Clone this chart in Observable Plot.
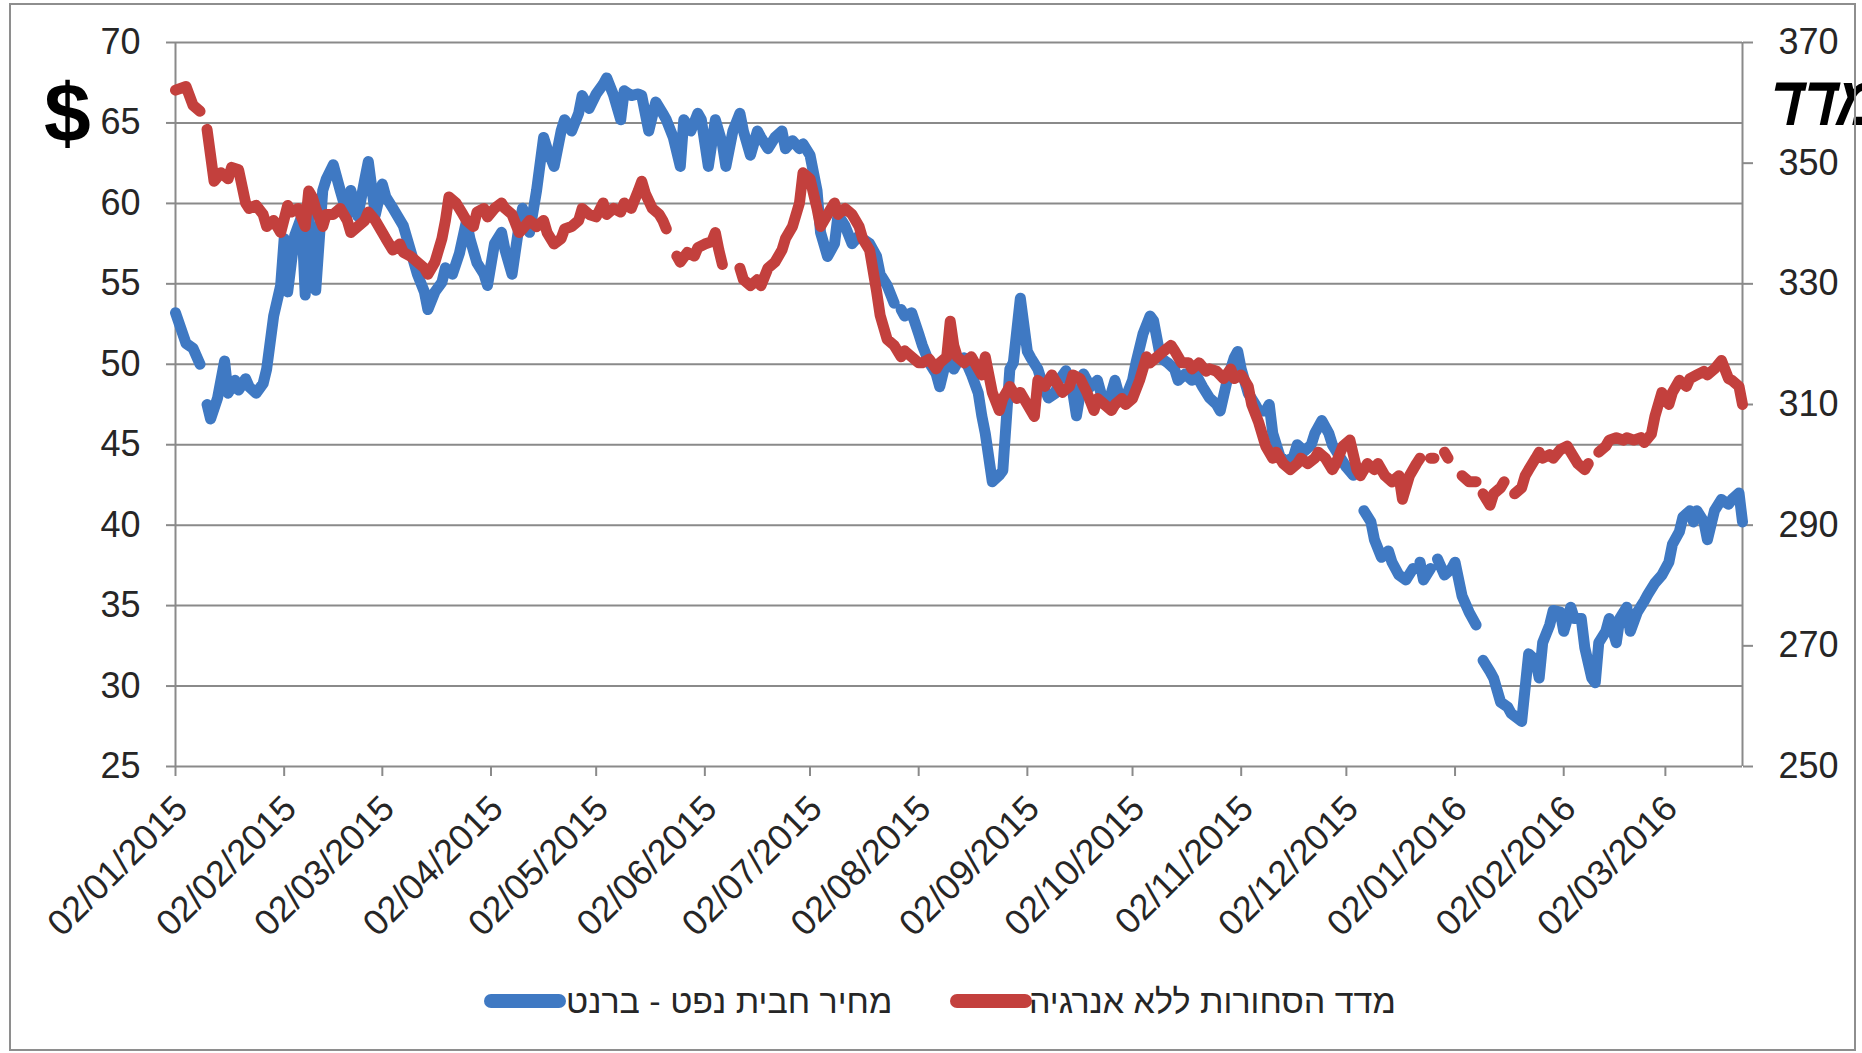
<!DOCTYPE html>
<html>
<head>
<meta charset="utf-8">
<script src="https://cdn.jsdelivr.net/npm/d3@7"></script>
<script src="https://cdn.jsdelivr.net/npm/@observablehq/plot@0.6"></script>
<style>
  html, body { margin: 0; padding: 0; background: #ffffff; }
  #wrap { position: relative; width: 1862px; height: 1053px; overflow: hidden; font-family: "Liberation Sans", Arial, sans-serif; }
  #border { position: absolute; left: 9px; top: 3px; width: 1843px; height: 1044px; border: 2px solid #8e8e8e; pointer-events: none; }
  #chart { position: absolute; left: 0; top: 0; }
  .ann { position: absolute; white-space: nowrap; line-height: 1; color: #000; font-weight: bold; }
  #legend { position: absolute; left: 0; top: 960px; width: 1862px; height: 93px; }
  .sw { position: absolute; height: 14px; border-radius: 7px; }
  .lt { position: absolute; white-space: nowrap; font-size: 34px; line-height: 1; color: #262626; }
</style>
</head>
<body>
<div id="wrap">
  <div id="chart"></div>
  <div class="ann" style="left:44px; top:71px; font-size:84px;">$</div>
  <div class="ann" dir="rtl" style="left:1764px; top:66px; font-size:70px; transform: skewX(-12deg) scaleX(0.82); transform-origin: 0 100%;">מדד</div>
  <div id="legend"></div>
  <div id="border"></div>
</div>
<script>
// ---- data ----
const xDomain = ["2015-01-02", "2016-03-24"];
const xTicks = ["2015-01-02","2015-02-02","2015-03-02","2015-04-02","2015-05-02","2015-06-02","2015-07-02","2015-08-02","2015-09-02","2015-10-02","2015-11-02","2015-12-02","2016-01-02","2016-02-02","2016-03-02"];
const leftTicks = [25, 30, 35, 40, 45, 50, 55, 60, 65, 70];
const rightTicks = [250, 270, 290, 310, 330, 350, 370];
const seriesNames = ["מחיר חבית נפט - ברנט", "מדד הסחורות ללא אנרגיה"];
const seriesColors = ["#3f79c3", "#c3403d"];

// Brent barrel price ($, left axis)
const brent = [
["2015-01-02",53.2],["2015-01-05",51.3],["2015-01-07",51.0],["2015-01-09",50.0],["2015-01-10",null],["2015-01-11",47.5],["2015-01-12",46.6],["2015-01-14",47.9],["2015-01-16",50.2],["2015-01-17",48.2],["2015-01-19",49.0],["2015-01-20",48.4],["2015-01-22",49.1],["2015-01-23",48.6],["2015-01-25",48.2],["2015-01-27",48.8],["2015-01-28",49.7],["2015-01-30",53.0],
["2015-02-01",54.9],["2015-02-02",57.8],["2015-02-03",54.5],["2015-02-05",58.0],["2015-02-07",59.2],["2015-02-08",54.3],["2015-02-09",59.3],["2015-02-11",54.6],["2015-02-13",60.8],["2015-02-14",61.5],["2015-02-16",62.4],["2015-02-18",60.8],["2015-02-20",59.3],["2015-02-21",60.8],["2015-02-23",59.2],["2015-02-25",61.5],["2015-02-26",62.6],["2015-02-28",59.3],
["2015-03-02",61.2],["2015-03-03",60.4],["2015-03-05",59.7],["2015-03-08",58.6],["2015-03-10",57.1],["2015-03-12",55.6],["2015-03-14",54.5],["2015-03-15",53.4],["2015-03-17",54.5],["2015-03-19",55.1],["2015-03-20",56.0],["2015-03-22",55.6],["2015-03-24",56.9],["2015-03-26",58.9],["2015-03-27",57.8],["2015-03-29",56.3],["2015-03-31",55.6],
["2015-04-01",54.9],["2015-04-03",57.5],["2015-04-05",58.2],["2015-04-06",57.1],["2015-04-08",55.6],["2015-04-10",58.6],["2015-04-11",59.7],["2015-04-13",58.2],["2015-04-15",60.8],["2015-04-17",64.1],["2015-04-18",63.4],["2015-04-20",62.3],["2015-04-22",64.5],["2015-04-23",65.2],["2015-04-25",64.5],["2015-04-27",65.6],["2015-04-28",66.7],["2015-04-30",65.9],
["2015-05-02",66.8],["2015-05-04",67.4],["2015-05-05",67.8],["2015-05-07",66.7],["2015-05-09",65.2],["2015-05-10",67.0],["2015-05-12",66.7],["2015-05-14",66.8],["2015-05-15",66.7],["2015-05-17",64.5],["2015-05-19",66.3],["2015-05-21",65.6],["2015-05-22",65.2],["2015-05-24",64.1],["2015-05-26",62.3],["2015-05-27",65.2],["2015-05-29",64.5],["2015-05-31",65.6],
["2015-06-01",65.2],["2015-06-03",62.3],["2015-06-05",65.2],["2015-06-07",63.7],["2015-06-08",62.3],["2015-06-10",64.5],["2015-06-12",65.6],["2015-06-13",64.5],["2015-06-15",63.0],["2015-06-17",64.5],["2015-06-18",64.1],["2015-06-20",63.4],["2015-06-22",64.1],["2015-06-24",64.5],["2015-06-25",63.4],["2015-06-27",63.9],["2015-06-29",63.4],["2015-06-30",63.7],
["2015-07-02",63.0],["2015-07-04",60.8],["2015-07-05",58.2],["2015-07-07",56.7],["2015-07-09",57.5],["2015-07-10",59.3],["2015-07-12",58.6],["2015-07-14",57.5],["2015-07-16",58.0],["2015-07-17",57.8],["2015-07-19",57.5],["2015-07-21",56.7],["2015-07-22",55.6],["2015-07-24",54.9],["2015-07-26",53.8],["2015-07-27",null],["2015-07-28",53.4],["2015-07-29",53.0],["2015-07-31",53.2],
["2015-08-02",51.9],["2015-08-03",51.2],["2015-08-05",50.1],["2015-08-07",49.4],["2015-08-08",48.6],["2015-08-10",50.4],["2015-08-12",49.7],["2015-08-13",50.1],["2015-08-15",50.4],["2015-08-17",49.4],["2015-08-19",48.2],["2015-08-20",46.8],["2015-08-21",45.7],["2015-08-23",42.7],["2015-08-25",43.1],["2015-08-26",43.4],["2015-08-28",49.7],["2015-08-29",50.1],["2015-08-31",54.1],
["2015-09-02",50.8],["2015-09-03",50.4],["2015-09-05",49.7],["2015-09-06",49.0],["2015-09-08",47.9],["2015-09-10",48.2],["2015-09-11",49.0],["2015-09-13",49.6],["2015-09-15",48.2],["2015-09-16",46.8],["2015-09-18",49.4],["2015-09-20",48.6],["2015-09-22",49.0],["2015-09-23",48.2],["2015-09-25",47.5],["2015-09-27",49.0],["2015-09-28",48.2],["2015-09-30",47.9],
["2015-10-02",49.0],["2015-10-03",50.1],["2015-10-05",51.9],["2015-10-07",53.0],["2015-10-08",52.7],["2015-10-10",50.4],["2015-10-12",50.1],["2015-10-14",49.7],["2015-10-15",49.0],["2015-10-17",49.4],["2015-10-19",49.0],["2015-10-20",49.4],["2015-10-22",48.6],["2015-10-24",47.9],["2015-10-26",47.5],["2015-10-27",47.1],["2015-10-29",49.0],["2015-10-31",50.4],
["2015-11-01",50.8],["2015-11-02",49.7],["2015-11-04",48.2],["2015-11-06",47.5],["2015-11-07",47.1],["2015-11-09",47.1],["2015-11-10",47.5],["2015-11-11",45.7],["2015-11-13",44.3],["2015-11-15",43.9],["2015-11-17",44.3],["2015-11-18",45.0],["2015-11-20",44.6],["2015-11-22",45.0],["2015-11-23",45.7],["2015-11-25",46.5],["2015-11-27",45.7],["2015-11-28",45.0],["2015-11-30",44.3],
["2015-12-02",43.6],["2015-12-04",43.1],["2015-12-05",43.4],["2015-12-06",null],["2015-12-07",40.9],["2015-12-09",40.2],["2015-12-10",39.1],["2015-12-12",38.0],["2015-12-14",38.4],["2015-12-15",37.7],["2015-12-17",36.9],["2015-12-19",36.6],["2015-12-21",37.3],["2015-12-22",null],["2015-12-23",37.7],["2015-12-24",36.6],["2015-12-26",37.3],["2015-12-27",null],["2015-12-28",37.9],["2015-12-30",36.9],
["2016-01-01",37.3],["2016-01-02",37.7],["2016-01-04",35.6],["2016-01-06",34.6],["2016-01-08",33.8],["2016-01-09",null],["2016-01-10",31.6],["2016-01-12",30.9],["2016-01-13",30.5],["2016-01-15",29.0],["2016-01-17",28.7],["2016-01-18",28.3],["2016-01-21",27.8],["2016-01-23",32.0],["2016-01-25",31.6],["2016-01-26",30.5],["2016-01-27",32.7],["2016-01-29",33.8],["2016-01-30",34.7],
["2016-02-01",34.6],["2016-02-02",33.4],["2016-02-04",34.9],["2016-02-05",34.2],["2016-02-07",34.2],["2016-02-08",32.4],["2016-02-10",30.5],["2016-02-11",30.2],["2016-02-12",32.7],["2016-02-14",33.4],["2016-02-15",34.2],["2016-02-17",32.7],["2016-02-18",34.2],["2016-02-20",34.9],["2016-02-21",33.4],["2016-02-23",34.6],["2016-02-25",35.3],["2016-02-26",35.7],["2016-02-28",36.4],
["2016-03-01",36.9],["2016-03-03",37.7],["2016-03-04",38.8],["2016-03-06",39.6],["2016-03-07",40.5],["2016-03-09",40.9],["2016-03-10",40.2],["2016-03-11",40.9],["2016-03-13",40.2],["2016-03-14",39.1],["2016-03-16",40.9],["2016-03-18",41.6],["2016-03-20",41.3],["2016-03-21",41.6],["2016-03-23",42.0],["2016-03-24",40.2]
];

// Non-energy commodity index (right axis)
const commodity = [
["2015-01-02",362.1],["2015-01-05",362.7],["2015-01-07",359.6],["2015-01-09",358.6],["2015-01-10",null],["2015-01-11",355.6],["2015-01-12",351.3],["2015-01-13",347.0],["2015-01-15",348.4],["2015-01-17",347.4],["2015-01-18",349.3],["2015-01-20",348.9],["2015-01-22",343.4],["2015-01-23",342.5],["2015-01-25",343.0],["2015-01-27",341.5],["2015-01-28",339.5],["2015-01-30",340.5],
["2015-02-01",338.5],["2015-02-03",343.0],["2015-02-04",341.9],["2015-02-06",342.5],["2015-02-08",339.5],["2015-02-09",345.4],["2015-02-10",344.4],["2015-02-11",342.5],["2015-02-13",339.5],["2015-02-14",341.5],["2015-02-16",341.5],["2015-02-18",342.5],["2015-02-20",340.5],["2015-02-21",338.5],["2015-02-23",339.5],["2015-02-25",340.5],["2015-02-26",341.9],["2015-02-28",340.5],
["2015-03-02",338.5],["2015-03-03",337.5],["2015-03-05",335.6],["2015-03-07",336.6],["2015-03-08",335.2],["2015-03-10",334.6],["2015-03-12",333.6],["2015-03-14",332.6],["2015-03-15",331.6],["2015-03-17",333.6],["2015-03-19",337.5],["2015-03-20",340.5],["2015-03-21",344.4],["2015-03-23",343.4],["2015-03-25",341.5],["2015-03-26",340.5],["2015-03-28",339.5],["2015-03-29",341.9],["2015-03-31",342.5],
["2015-04-01",341.1],["2015-04-03",342.5],["2015-04-05",343.4],["2015-04-06",342.5],["2015-04-08",341.5],["2015-04-10",338.5],["2015-04-11",339.1],["2015-04-13",340.5],["2015-04-15",339.5],["2015-04-17",340.5],["2015-04-18",338.5],["2015-04-20",336.6],["2015-04-22",337.5],["2015-04-23",339.1],["2015-04-25",339.5],["2015-04-27",340.5],["2015-04-28",342.5],["2015-04-30",341.5],
["2015-05-02",341.1],["2015-05-04",343.4],["2015-05-05",341.5],["2015-05-07",342.5],["2015-05-09",341.9],["2015-05-10",343.4],["2015-05-12",342.5],["2015-05-14",345.4],["2015-05-15",347.0],["2015-05-16",345.0],["2015-05-18",342.5],["2015-05-20",341.5],["2015-05-21",340.5],["2015-05-22",339.1],["2015-05-23",null],["2015-05-25",334.6],["2015-05-26",333.6],["2015-05-28",335.2],["2015-05-30",334.6],["2015-05-31",336.0],
["2015-06-02",336.6],["2015-06-04",337.0],["2015-06-05",338.5],["2015-06-06",335.6],["2015-06-07",333.2],["2015-06-09",null],["2015-06-12",332.6],["2015-06-13",330.7],["2015-06-15",329.7],["2015-06-17",330.7],["2015-06-18",329.7],["2015-06-20",332.6],["2015-06-22",333.6],["2015-06-24",335.6],["2015-06-25",337.5],["2015-06-27",339.5],["2015-06-29",343.4],["2015-06-30",348.4],
["2015-07-02",347.4],["2015-07-04",342.5],["2015-07-05",339.5],["2015-07-07",341.5],["2015-07-09",343.4],["2015-07-10",341.5],["2015-07-12",342.5],["2015-07-14",341.5],["2015-07-16",339.5],["2015-07-17",337.5],["2015-07-19",335.6],["2015-07-21",328.7],["2015-07-22",324.8],["2015-07-24",320.8],["2015-07-26",319.8],["2015-07-28",317.9],["2015-07-29",318.9],["2015-07-31",317.9],
["2015-08-02",316.9],["2015-08-03",316.9],["2015-08-05",317.5],["2015-08-07",315.9],["2015-08-08",316.9],["2015-08-10",317.9],["2015-08-11",323.8],["2015-08-12",319.8],["2015-08-13",317.9],["2015-08-15",316.9],["2015-08-17",317.9],["2015-08-19",315.9],["2015-08-20",314.9],["2015-08-21",317.9],["2015-08-23",312.0],["2015-08-25",309.0],["2015-08-26",311.0],["2015-08-28",313.0],["2015-08-30",311.0],["2015-08-31",312.0],
["2015-09-02",310.0],["2015-09-04",308.0],["2015-09-05",314.0],["2015-09-07",313.0],["2015-09-09",314.9],["2015-09-10",313.9],["2015-09-12",312.0],["2015-09-14",313.0],["2015-09-15",314.9],["2015-09-17",314.3],["2015-09-19",312.0],["2015-09-21",309.0],["2015-09-22",311.0],["2015-09-24",310.0],["2015-09-26",309.0],["2015-09-27",310.0],["2015-09-29",311.0],["2015-09-30",310.0],
["2015-10-02",311.0],["2015-10-04",314.0],["2015-10-06",317.9],["2015-10-07",316.9],["2015-10-09",317.9],["2015-10-11",318.9],["2015-10-13",319.8],["2015-10-14",318.9],["2015-10-16",316.9],["2015-10-18",316.9],["2015-10-19",315.9],["2015-10-21",316.9],["2015-10-23",315.5],["2015-10-24",315.9],["2015-10-26",315.5],["2015-10-28",314.3],["2015-10-30",315.9],["2015-10-31",314.3],
["2015-11-02",314.9],["2015-11-04",313.0],["2015-11-05",310.0],["2015-11-07",307.0],["2015-11-09",303.1],["2015-11-11",301.1],["2015-11-12",302.1],["2015-11-14",300.2],["2015-11-16",299.2],["2015-11-18",300.2],["2015-11-19",301.1],["2015-11-21",300.2],["2015-11-23",301.1],["2015-11-24",302.1],["2015-11-26",301.1],["2015-11-28",299.2],["2015-11-29",300.2],
["2015-12-01",303.1],["2015-12-03",304.1],["2015-12-05",299.2],["2015-12-06",298.2],["2015-12-08",300.2],["2015-12-10",299.2],["2015-12-11",300.2],["2015-12-13",298.2],["2015-12-15",297.2],["2015-12-17",298.2],["2015-12-18",294.3],["2015-12-20",298.2],["2015-12-22",300.2],["2015-12-23",301.1],["2015-12-24",null],["2015-12-26",301.1],["2015-12-27",301.1],["2015-12-28",null],["2015-12-30",302.1],["2015-12-31",301.1],
["2016-01-01",null],["2016-01-04",298.2],["2016-01-06",297.2],["2016-01-08",297.2],["2016-01-09",null],["2016-01-10",295.2],["2016-01-12",293.3],["2016-01-13",295.2],["2016-01-15",296.2],["2016-01-16",297.2],["2016-01-17",null],["2016-01-19",295.2],["2016-01-21",296.2],["2016-01-22",298.2],["2016-01-23",299.2],["2016-01-25",301.1],["2016-01-26",302.1],["2016-01-27",301.1],["2016-01-29",301.7],["2016-01-30",301.1],
["2016-02-01",302.5],["2016-02-03",303.1],["2016-02-04",302.1],["2016-02-06",300.2],["2016-02-08",299.2],["2016-02-09",300.2],["2016-02-10",null],["2016-02-12",302.1],["2016-02-14",303.1],["2016-02-15",304.1],["2016-02-17",304.5],["2016-02-19",304.1],["2016-02-20",304.5],["2016-02-22",304.1],["2016-02-24",304.5],["2016-02-25",303.7],["2016-02-27",305.1],["2016-02-28",308.0],
["2016-03-01",312.0],["2016-03-03",310.0],["2016-03-04",312.0],["2016-03-06",314.0],["2016-03-08",313.0],["2016-03-09",314.3],["2016-03-11",314.9],["2016-03-13",315.5],["2016-03-14",314.9],["2016-03-16",315.9],["2016-03-18",317.3],["2016-03-20",314.3],["2016-03-21",314.0],["2016-03-23",313.0],["2016-03-24",310.0]
];

// ---- build ----
const parse = d3.utcParse("%Y-%m-%d");
const toLeft = v => 25 + (v - 250) * 45 / 120;
const fromLeft = v => Math.round(250 + (v - 25) * 120 / 45);
const brentRows = brent.map(([d, v]) => ({date: parse(d), value: v}));
const commRows = commodity.map(([d, v]) => ({date: parse(d), value: v == null ? null : toLeft(v)}));
const gridColor = "#8a8a8a";
const textColor = "#262626";
const fmtDate = d3.utcFormat("%d/%m/%Y");

const chart = Plot.plot({
  width: 1862,
  height: 960,
  marginTop: 42,
  marginLeft: 175,
  marginRight: 120,
  marginBottom: 194,
  style: {fontFamily: "'Liberation Sans', Arial, sans-serif", fontSize: "36px", color: textColor, background: "transparent", overflow: "visible"},
  x: {type: "utc", domain: xDomain.map(parse)},
  y: {domain: [25, 70]},
  marks: [
    Plot.gridY(leftTicks, {stroke: gridColor, strokeOpacity: 1, strokeWidth: 2}),
    Plot.ruleX(xDomain.map(parse), {stroke: gridColor, strokeWidth: 2}),
    Plot.axisY(leftTicks, {anchor: "left", tickSize: 9, tickPadding: 26, stroke: gridColor, strokeWidth: 2, fill: textColor, fontSize: 36, label: null}),
    Plot.axisY(rightTicks.map(toLeft), {anchor: "right", tickSize: 10, tickPadding: 26, tickFormat: fromLeft, stroke: gridColor, strokeWidth: 2, fill: textColor, fontSize: 36, label: null}),
    // x tick marks
    Plot.axisX(xTicks.map(parse), {anchor: "bottom", tickSize: 10, tickFormat: () => "", stroke: gridColor, strokeWidth: 2, label: null}),
    // x tick labels (rotated)
    Plot.axisX(xTicks.map(parse), {anchor: "bottom", tickSize: 0, tickRotate: -45, tickFormat: fmtDate, tickPadding: 36, dx: 6, fill: textColor, fontSize: 36, label: null}),
    Plot.line(brentRows, {x: "date", y: "value", stroke: seriesColors[0], strokeWidth: 11, strokeLinecap: "round", strokeLinejoin: "round"}),
    Plot.line(commRows, {x: "date", y: "value", stroke: seriesColors[1], strokeWidth: 11, strokeLinecap: "round", strokeLinejoin: "round"})
  ]
});
document.getElementById("chart").appendChild(chart);

// legend
const legend = document.getElementById("legend");
const legendPos = [{sw: 484, tx: 566}, {sw: 950, tx: 1029}];
seriesNames.forEach((name, i) => {
  const sw = document.createElement("div");
  sw.className = "sw";
  sw.style.left = legendPos[i].sw + "px";
  sw.style.top = "34px";
  sw.style.width = "82px";
  sw.style.background = seriesColors[i];
  legend.appendChild(sw);
  const t = document.createElement("div");
  t.className = "lt";
  t.dir = "rtl";
  t.textContent = name;
  t.style.left = legendPos[i].tx + "px";
  t.style.top = "24px";
  legend.appendChild(t);
});
</script>
</body>
</html>
